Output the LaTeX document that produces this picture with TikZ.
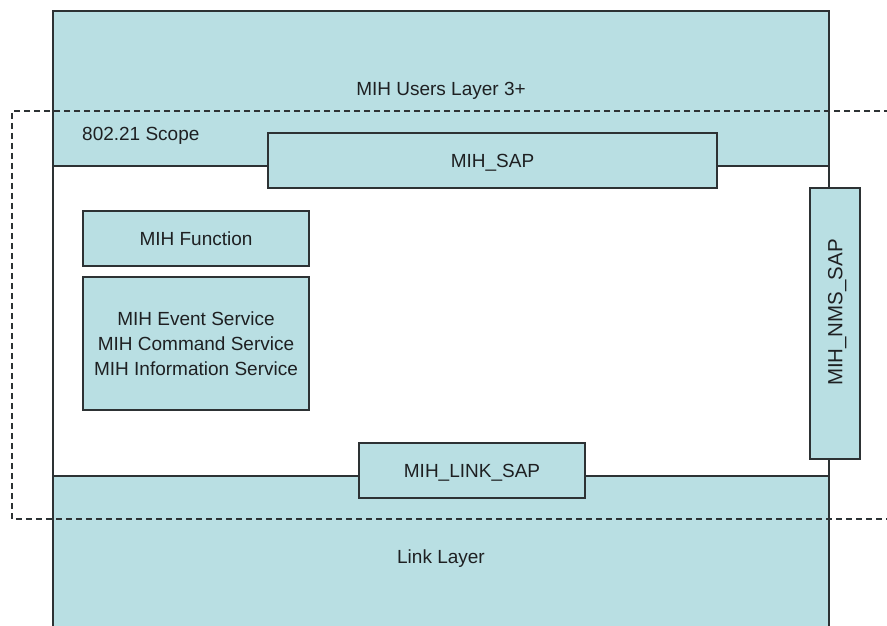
\documentclass[tikz,border=0pt]{standalone}
\usepackage{fontspec}
\setmainfont{Liberation Sans}
\definecolor{layerblue}{RGB}{185,223,227}
\definecolor{edge}{RGB}{45,50,52}
\definecolor{ink}{RGB}{30,32,34}
\tikzset{
  textfont/.style={text=ink, font=\fontsize{19}{25}\selectfont},
  boxbase/.style={draw=edge, fill=layerblue, line width=1.5pt, inner sep=0pt, outer sep=0pt, textfont, align=center},
  capshift/.style={text height=13.6pt, text depth=-5pt},
  band/.style={boxbase, capshift},
  sapbox/.style={boxbase, capshift},
  frameline/.style={draw=edge, line width=1.5pt},
  scopeline/.style={draw=edge, line width=1.3pt, dash pattern=on 6pt off 4pt}
}
\begin{document}
\begin{tikzpicture}[x=1pt,y=-1pt]
\clip (0,0) rectangle (887,626);
\fill[white] (0,0) rectangle (887,626);
% layers
\node[band, minimum width=776pt, minimum height=155pt] (users) at (441,88.5) {MIH Users Layer 3+};
\node[band, minimum width=776pt, minimum height=162pt] (link) at (441,557) {Link Layer};
\draw[frameline] (users.south west) -- (link.north west);
\draw[frameline] (users.south east) -- (link.north east);
% 802.21 scope
\coordinate (scopeTR) at (900,111);
\coordinate (scopeBL) at (12,519);
\coordinate (scopeBR) at (900,519);
\draw[scopeline] (scopeTR) -| (scopeBL) -- (scopeBR);
\node[anchor=base west, inner sep=0pt, textfont] (scope) at (82,140) {802.21 Scope};
% SAPs
\node[sapbox, minimum width=449pt, minimum height=55pt] (sap) at (492.5,160.5) {MIH\_SAP};
\node[sapbox, minimum width=226pt, minimum height=55pt] (linksap) at (472,470.5) {MIH\_LINK\_SAP};
\node[boxbase, text height=14.5pt, text depth=0pt, font=\fontsize{20.5}{25}\selectfont, minimum width=271pt, minimum height=50pt, rotate=90] (nms) at (835,323.5) {\hspace*{22pt}MIH\_NMS\_SAP};
% MIH function
\node[sapbox, minimum width=226pt, minimum height=55pt] (func) at (196,238.5) {MIH Function};
\node[boxbase, minimum width=226pt, minimum height=133pt] (services) at (196,343.5) {MIH Event Service\\MIH Command Service\\MIH Information Service};
\end{tikzpicture}
\end{document}
